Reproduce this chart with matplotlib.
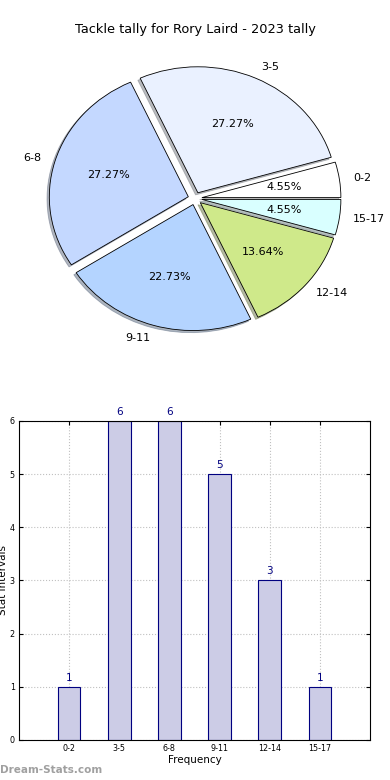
import matplotlib
matplotlib.use("Agg")
import matplotlib.pyplot as plt

# data
intervals = ["0-2", "3-5", "6-8", "9-11", "12-14", "15-17"]
counts = [1, 6, 6, 5, 3, 1]
wedge_colors = ["#ffffff", "#eaf1ff", "#c4d8ff", "#b4d4ff", "#cfe98a", "#d9ffff"]
title = "Tackle tally for Rory Laird - 2023 tally"

fig = plt.figure(figsize=(3.9, 7.8), dpi=100)

# pie (old style, slightly elliptical)
ax1 = fig.add_axes([0.0545, 0.5436, 0.891, 0.4038])
wedges, texts, autotexts = ax1.pie(
    counts,
    labels=intervals,
    colors=wedge_colors,
    explode=[0.05] * len(counts),
    autopct="%.2f%%",
    shadow={"ox": -0.012, "oy": -0.012, "shade": 0.5},
    startangle=0,
    wedgeprops={"edgecolor": "black", "linewidth": 0.6},
    textprops={"fontsize": 8},
)
ax1.set_aspect("auto")
ax1.set_xlim(-1.25, 1.25)
ax1.set_ylim(-1.25, 1.25)
fig.text(0.5, 1 - 30 / 780, title, ha="center", va="center", fontsize=9.3)

# bars
ax2 = fig.add_axes([0.0487, 0.0513, 0.9, 0.409])
x = list(range(len(intervals)))
ax2.bar(x, counts, width=0.45, color="#ccccE6", edgecolor="#000080", linewidth=0.8, zorder=2)
for xi, c in zip(x, counts):
    ax2.text(xi, c + 0.08, str(c), ha="center", va="bottom", color="#000080", fontsize=7.5)
ax2.set_xlim(-1, 6)
ax2.set_ylim(0, 6)
ax2.set_xticks(x)
ax2.set_xticklabels(intervals)
ax2.set_yticks(range(0, 7))
ax2.tick_params(labelsize=5.8, direction="in", top=True, right=True, length=3, pad=3)
ax2.grid(True, linestyle=":", color="#c0c0c0", linewidth=0.8, zorder=0)
ax2.set_axisbelow(True)
ax2.set_xlabel("Frequency", fontsize=7.5, labelpad=1)
ax2.set_ylabel("Stat Intervals", fontsize=7.5, labelpad=1)

fig.text(0.0, 1 - 770 / 780, "Dream-Stats.com", ha="left", va="center",
         fontsize=7.5, color="#a0a0a0", fontweight="bold")

fig.savefig("out.png", dpi=100)
